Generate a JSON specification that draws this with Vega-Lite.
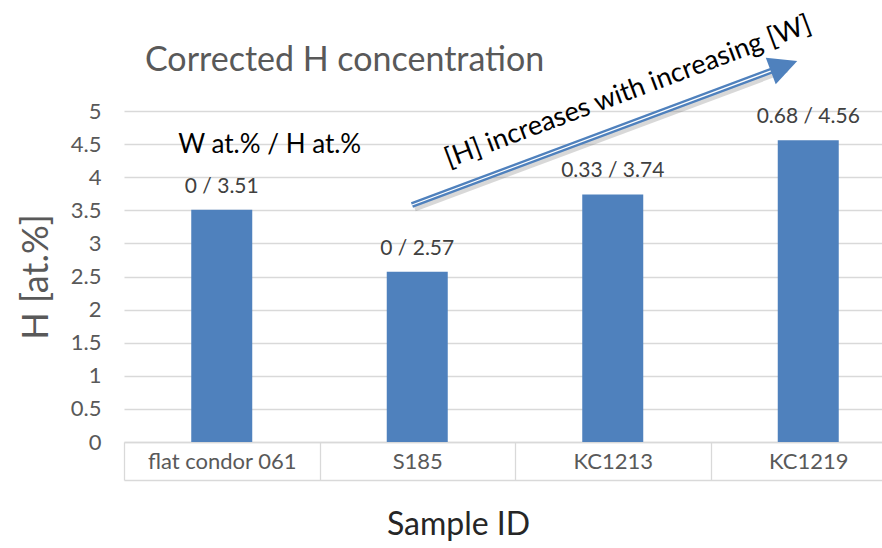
{
  "$schema": "https://vega.github.io/schema/vega-lite/v6.json",
  "width": 758,
  "height": 331,
  "autosize": {"type": "none"},
  "padding": {"left": 124, "top": 111, "right": 0, "bottom": 106},
  "background": "white",
  "config": {
    "font": "Lato",
    "view": {"stroke": null},
    "axisY": {
      "domain": false,
      "ticks": false,
      "grid": true,
      "gridColor": "#d9d9d9",
      "gridWidth": 1.3,
      "labelFontSize": 22,
      "labelColor": "#595959",
      "labelPadding": 23,
      "titleFontSize": 36,
      "titleFontWeight": "normal",
      "titleColor": "#595959",
      "titleBaseline": "middle"
    }
  },
  "title": {
    "text": "Corrected H concentration",
    "anchor": "start",
    "frame": "group",
    "fontSize": 34,
    "fontWeight": "normal",
    "color": "#595959",
    "baseline": "alphabetic",
    "dx": 21,
    "offset": -94
  },
  "layer": [
    {
      "data": {
        "values": [
          {"sample": "flat condor 061", "W": 0, "H": 3.51, "label": "0 / 3.51"},
          {"sample": "S185", "W": 0, "H": 2.57, "label": "0 / 2.57"},
          {"sample": "KC1213", "W": 0.33, "H": 3.74, "label": "0.33 / 3.74"},
          {"sample": "KC1219", "W": 0.68, "H": 4.56, "label": "0.68 / 4.56"}
        ]
      },
      "layer": [
        {
          "mark": {"type": "bar", "color": "#4F81BD", "width": {"band": 0.312}},
          "encoding": {
            "x": {
              "field": "sample",
              "type": "nominal",
              "sort": null,
              "scale": {
                "domain": ["flat condor 061", "S185", "KC1213", "KC1219"],
                "range": [0, 782],
                "paddingInner": 0,
                "paddingOuter": 0
              },
              "axis": {
                "orient": "bottom",
                "title": null,
                "domain": true,
                "domainColor": "#d9d9d9",
                "domainWidth": 1.3,
                "ticks": true,
                "tickBand": "extent",
                "tickSize": 38,
                "tickColor": "#d9d9d9",
                "tickWidth": 1.3,
                "labelAngle": 0,
                "labelFontSize": 22,
                "labelColor": "#595959",
                "labelBaseline": "middle",
                "labelPadding": -19
              }
            },
            "y": {
              "field": "H",
              "type": "quantitative",
              "scale": {"domain": [0, 5], "nice": false, "zero": false},
              "axis": {
                "orient": "left",
                "values": [0, 0.5, 1, 1.5, 2, 2.5, 3, 3.5, 4, 4.5, 5],
                "format": "~g",
                "labelFontSize": 22,
                "title": "H [at.%]",
                "titleX": -88,
                "titleY": 165.5
              }
            }
          }
        },
        {
          "mark": {"type": "text", "fontSize": 21, "color": "#404040", "baseline": "alphabetic", "dy": -17},
          "encoding": {
            "x": {
              "field": "sample",
              "type": "nominal",
              "sort": null,
              "axis": {
                "orient": "bottom",
                "offset": 38,
                "domain": true,
                "domainColor": "#d9d9d9",
                "domainWidth": 1.3,
                "ticks": false,
                "labels": false,
                "title": "Sample ID",
                "titleFontSize": 32,
                "titleFontWeight": "normal",
                "titleColor": "#262626",
                "titleBaseline": "middle",
                "titleX": 334,
                "titleY": 44
              }
            },
            "y": {
              "field": "H",
              "type": "quantitative",
              "axis": {
                "orient": "left",
                "values": [0, 0.5, 1, 1.5, 2, 2.5, 3, 3.5, 4, 4.5, 5],
                "format": "~g",
                "labelFontSize": 22,
                "title": "H [at.%]",
                "titleX": -88,
                "titleY": 165.5
              }
            },
            "text": {"field": "label"}
          }
        },
        {
          "data": {"values": [{"sample": "flat condor 061", "H": 4.49, "note": "W at.% / H at.%"}]},
          "mark": {"type": "text", "fontSize": 26, "color": "#000000", "baseline": "middle", "dx": 48},
          "encoding": {
            "x": {"field": "sample", "type": "nominal", "sort": null, "axis": null},
            "y": {
              "field": "H",
              "type": "quantitative",
              "axis": {
                "orient": "left",
                "values": [0, 0.5, 1, 1.5, 2, 2.5, 3, 3.5, 4, 4.5, 5],
                "format": "~g",
                "labelFontSize": 22,
                "title": "H [at.%]",
                "titleX": -88,
                "titleY": 165.5
              }
            },
            "text": {"field": "note"}
          }
        }
      ],
      "resolve": {"axis": {"x": "independent"}}
    },
    {
      "data": {"values": [{"pos": 1.486, "h": 3.535}, {"pos": 3.389, "h": 5.635}]},
      "mark": {"type": "line", "color": "#7f7f7f", "opacity": 0.3, "strokeWidth": 7, "strokeCap": "butt"},
      "encoding": {
        "x": {"field": "pos", "type": "quantitative", "scale": {"domain": [0, 4], "range": [0, 782], "nice": false, "zero": false}, "axis": null},
        "y": {"field": "h", "type": "quantitative", "scale": {"domain": [0, 5], "nice": false, "zero": false}, "axis": null}
      }
    },
    {
      "data": {"values": [{"pos": 1.473, "h": 3.58}, {"pos": 3.376, "h": 5.68}]},
      "mark": {"type": "line", "color": "#4F81BD", "strokeWidth": 6, "strokeCap": "butt"},
      "encoding": {
        "x": {"field": "pos", "type": "quantitative", "scale": {"domain": [0, 4], "range": [0, 782], "nice": false, "zero": false}, "axis": null},
        "y": {"field": "h", "type": "quantitative", "scale": {"domain": [0, 5], "nice": false, "zero": false}, "axis": null}
      }
    },
    {
      "data": {"values": [{"pos": 1.473, "h": 3.58}, {"pos": 3.376, "h": 5.68}]},
      "mark": {"type": "line", "color": "#ffffff", "strokeWidth": 1.3, "strokeCap": "butt"},
      "encoding": {
        "x": {"field": "pos", "type": "quantitative", "scale": {"domain": [0, 4], "range": [0, 782], "nice": false, "zero": false}, "axis": null},
        "y": {"field": "h", "type": "quantitative", "scale": {"domain": [0, 5], "nice": false, "zero": false}, "axis": null}
      }
    },
    {
      "data": {"values": [{"pos": 3.376, "h": 5.68}]},
      "mark": {"type": "point", "shape": "M-1,-1L1,0L-1,1Z", "size": 800, "angle": -20.5, "filled": true, "color": "#4F81BD", "opacity": 1},
      "encoding": {
        "x": {"field": "pos", "type": "quantitative", "scale": {"domain": [0, 4], "range": [0, 782], "nice": false, "zero": false}, "axis": null},
        "y": {"field": "h", "type": "quantitative", "scale": {"domain": [0, 5], "nice": false, "zero": false}, "axis": null}
      }
    },
    {
      "data": {"values": [{"pos": 2.578, "h": 5.287, "caption": "[H] increases with increasing [W]"}]},
      "mark": {"type": "text", "fontSize": 27, "color": "#000000", "angle": -20.5, "align": "center", "baseline": "middle"},
      "encoding": {
        "x": {"field": "pos", "type": "quantitative", "scale": {"domain": [0, 4], "range": [0, 782], "nice": false, "zero": false}, "axis": null},
        "y": {"field": "h", "type": "quantitative", "scale": {"domain": [0, 5], "nice": false, "zero": false}, "axis": null},
        "text": {"field": "caption"}
      }
    }
  ],
  "resolve": {"scale": {"x": "independent", "y": "independent"}}
}
